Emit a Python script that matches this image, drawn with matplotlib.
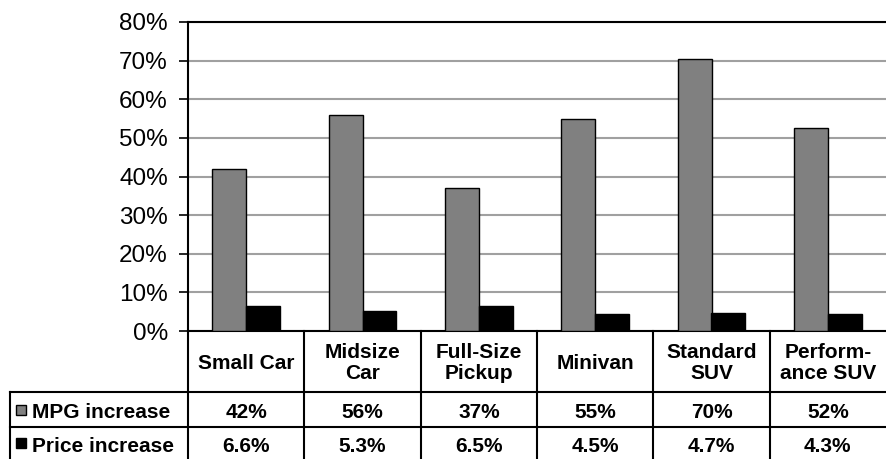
import matplotlib.pyplot as plt
import numpy as np

categories = ['Small Car', 'Midsize\nCar', 'Full-Size\nPickup', 'Minivan', 'Standard\nSUV', 'Perform-\nance SUV']
mpg_increase = [42, 56, 37, 55, 70.5, 52.5]
price_increase = [6.6, 5.3, 6.5, 4.5, 4.7, 4.3]
mpg_labels = ['42%', '56%', '37%', '55%', '70%', '52%']
price_labels = ['6.6%', '5.3%', '6.5%', '4.5%', '4.7%', '4.3%']
series_names = ['MPG increase', 'Price increase']
series_colors = ['#808080', '#000000']

W, H = 886, 459
fig = plt.figure(figsize=(W / 100, H / 100), dpi=100)
ax = fig.add_axes([188 / W, 128 / H, (W - 188) / W, 309 / H])

x = np.arange(len(categories))
bw = 0.29
ax.bar(x - bw / 2, mpg_increase, bw, color=series_colors[0], edgecolor='black', linewidth=1, zorder=3)
ax.bar(x + bw / 2, price_increase, bw, color=series_colors[1], edgecolor='black', linewidth=1, zorder=3)

ax.set_xlim(-0.5, len(categories) - 0.5)
ax.set_ylim(0, 80)
ax.set_yticks(np.arange(0, 81, 10))
ax.set_yticklabels(['%d%%' % v for v in range(0, 81, 10)], family='Liberation Sans', fontsize=17.5)
ax.tick_params(axis='y', direction='out', length=6.5, width=1.2, pad=8)
ax.set_xticks([])
ax.yaxis.grid(True, color='#a0a0a0', linewidth=1.5, zorder=0)
ax.set_axisbelow(True)
ax.spines['right'].set_visible(False)
for s in ['left', 'bottom', 'top']:
    ax.spines[s].set_linewidth(1.5)
    ax.spines[s].set_color('black')

# data table under the plot
tr = ax.get_xaxis_transform()
unit = (W - 188) / len(categories)  # pixels per category
x_left = -0.5 - 178 / unit
y_head = -61 / 309
y_row1 = -96 / 309
y_bot = -128 / 309
lk = dict(color='black', lw=1.5, transform=tr, clip_on=False)
for i in range(len(categories)):
    ax.plot([i - 0.5, i - 0.5], [0, y_bot], **lk)
ax.plot([x_left, len(categories) - 0.5], [y_head, y_head], **lk)
ax.plot([x_left, len(categories) - 0.5], [y_row1, y_row1], **lk)
ax.plot([x_left, x_left], [y_head, y_bot], **lk)

tk = dict(family='Liberation Sans', weight='bold', fontsize=15, ha='center', va='center',
          transform=tr, clip_on=False)
for i, c in enumerate(categories):
    ax.text(i, y_head / 2 - 0.005, c, linespacing=1.15, **tk)
    ax.text(i, (y_head + y_row1) / 2 - 0.01, mpg_labels[i], **tk)
    ax.text(i, (y_row1 + y_bot) / 2 - 0.01, price_labels[i], **tk)

rows_y = [(y_head + y_row1) / 2, (y_row1 + y_bot) / 2]
for name, col, yy in zip(series_names, series_colors, rows_y):
    ax.plot([x_left + 11 / unit], [yy], marker='s', markersize=7.5, color=col,
            markeredgecolor='black', markeredgewidth=1, transform=tr, clip_on=False)
    ax.text(x_left + 22 / unit, yy - 0.01, name, family='Liberation Sans', weight='bold',
            fontsize=15, ha='left', va='center', transform=tr, clip_on=False)

fig.savefig('out.png', dpi=100)
